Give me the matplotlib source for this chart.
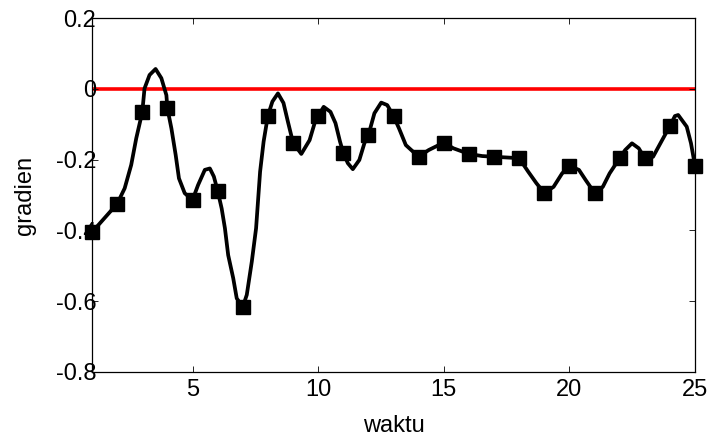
import numpy as np
import matplotlib
matplotlib.use('Agg')
import matplotlib.pyplot as plt

plt.rcParams['font.family'] = ['Liberation Sans', 'DejaVu Sans']

# sampled points (markers) at each time step
waktu = np.arange(1, 26)
gradien = [-0.405, -0.325, -0.066, -0.055, -0.314, -0.288, -0.616, -0.076, -0.152, -0.077,
           -0.181, -0.131, -0.077, -0.192, -0.152, -0.184, -0.192, -0.196, -0.294, -0.218,
           -0.294, -0.196, -0.196, -0.105, -0.218]

# continuous curve
t_curve = [1.0, 2.0, 2.30, 2.56, 2.76, 3.0, 3.09, 3.29, 3.53, 3.76, 3.96, 4.0,
           4.16, 4.33, 4.46, 4.69, 5.0, 5.22, 5.49, 5.69, 5.85, 6.0,
           6.16, 6.29, 6.42, 6.62, 6.76, 7.0, 7.16, 7.36, 7.53, 7.69, 7.83, 8.0,
           8.18, 8.40, 8.62, 8.80, 9.0, 9.33, 9.66, 9.86, 10.0, 10.22, 10.49, 10.69,
           10.87, 11.0, 11.18, 11.38, 11.64, 11.84, 12.0, 12.24, 12.51, 12.75, 13.0,
           13.22, 13.49, 14.0, 14.40, 15.0, 15.38, 16.0, 16.53, 17.0, 18.0, 18.36,
           18.69, 19.0, 19.37, 19.71, 20.0, 20.38, 20.65, 21.0, 21.33, 21.60, 22.0,
           22.22, 22.49, 22.76, 23.0, 23.33, 23.66, 24.0, 24.20, 24.33, 24.67, 24.84, 25.0]
v_curve = [-0.405, -0.325, -0.281, -0.215, -0.140, -0.066, 0.001, 0.039, 0.056, 0.030, -0.018, -0.055,
           -0.112, -0.187, -0.253, -0.295, -0.314, -0.272, -0.229, -0.225, -0.248, -0.288,
           -0.338, -0.394, -0.470, -0.535, -0.592, -0.616, -0.582, -0.488, -0.394, -0.234, -0.149, -0.076,
           -0.036, -0.013, -0.040, -0.094, -0.152, -0.184, -0.145, -0.097, -0.077, -0.051, -0.065, -0.097,
           -0.149, -0.181, -0.210, -0.227, -0.201, -0.154, -0.131, -0.069, -0.039, -0.046, -0.077,
           -0.112, -0.159, -0.192, -0.173, -0.152, -0.168, -0.184, -0.190, -0.192, -0.196, -0.234,
           -0.267, -0.294, -0.277, -0.239, -0.218, -0.229, -0.258, -0.294, -0.277, -0.239, -0.196,
           -0.173, -0.154, -0.168, -0.196, -0.192, -0.149, -0.105, -0.077, -0.074, -0.107, -0.154, -0.218]

# zero reference line
ref_x = [1, 25]
ref_y = [0, 0]

fig = plt.figure(figsize=(7.10, 4.38), dpi=100)
ax = fig.add_axes([0.1296, 0.1507, 0.8493, 0.8082])

ax.plot(ref_x, ref_y, color='#ff0000', lw=2.6, zorder=1.5)
ax.plot(t_curve, v_curve, color='black', lw=2.7, solid_joinstyle='round', zorder=2)
ax.plot(waktu, gradien, 's', color='black', ms=10.5, clip_on=False, zorder=3)

ax.set_xlim(1, 25)
ax.set_ylim(-0.8, 0.2)
ax.set_xticks([5, 10, 15, 20, 25])
ax.set_yticks([-0.8, -0.6, -0.4, -0.2, 0, 0.2])
ax.set_yticklabels(['-0.8', '-0.6', '-0.4', '-0.2', '0', '0.2'])

ax.tick_params(direction='in', length=4, width=0.6, top=True, right=True, labelsize=17)
ax.tick_params(axis='y', pad=-3)
ax.tick_params(axis='x', pad=5)
for s in ax.spines.values():
    s.set_linewidth(0.9)

ax.set_xlabel('waktu', fontsize=17)
ax.set_ylabel('gradien', fontsize=17)
ax.xaxis.set_label_coords(0.5, -0.122)
ax.yaxis.set_label_coords(-0.093, 0.5)

fig.savefig('out.png', dpi=100)
